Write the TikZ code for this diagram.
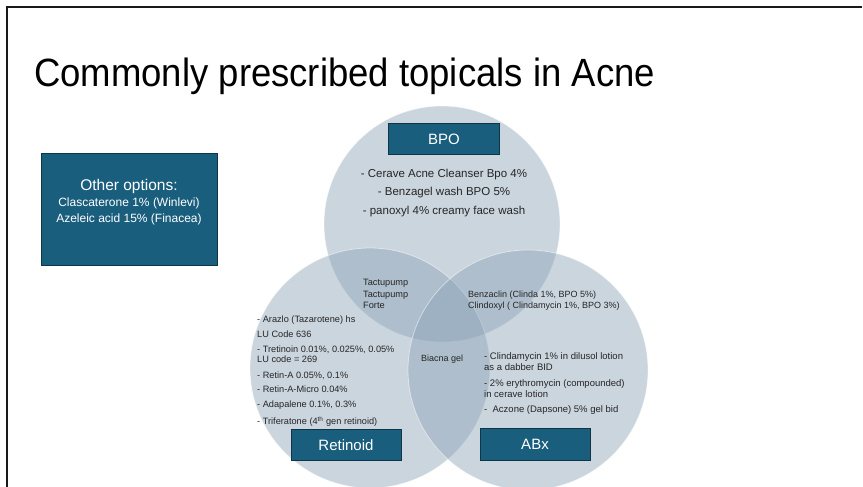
\documentclass[tikz,border=0pt]{standalone}
\usepackage{fontspec}
\setmainfont{Liberation Sans}
\definecolor{boxblue}{RGB}{26,94,126}
\definecolor{boxedge}{RGB}{16,52,72}
\definecolor{vennfill}{RGB}{140,163,184}
\definecolor{framecol}{RGB}{25,25,25}
\begin{document}
\begin{tikzpicture}[x=1pt,y=-1pt,
  labelbox/.style={draw=boxedge, line width=0.9pt, fill=boxblue, text=white,
    minimum width=110pt, minimum height=31pt, inner sep=0pt,
    font=\fontsize{15}{18}\selectfont},
  vennset/.style={circle, inner sep=0pt, fill=vennfill, fill opacity=0.45,
    draw=white, draw opacity=0.5, line width=0.8pt},
  smalltext/.style={inner sep=0pt, text=black!85, align=left}
]
\useasboundingbox (0,0) rectangle (863,487);
\fill[white] (0,0) rectangle (863,487);

% slide frame (left and top edges)
\draw[framecol, line width=2pt] (7,488) -- (7,7) -- (862,7);

% title
\node[anchor=base west, inner sep=0pt, font=\fontsize{36.5}{40}\selectfont] (title) at (34,87)
  {\scalebox{1}[1.08]{Commonly prescribed topicals in Acne}};

% side box
\node[draw=boxedge, line width=0.9pt, fill=boxblue,
  minimum width=176pt, minimum height=112pt, inner sep=0pt] (other) at (129,209) {};
\node[text=white, align=center, inner sep=0pt,
  font=\fontsize{12}{16.5}\selectfont] (othertext) at (129,202)
  {{\fontsize{15.5}{17}\selectfont Other options:}\\[-0.5pt]
   Clascaterone 1\% (Winlevi)\\
   Azeleic acid 15\% (Finacea)};

% the three sets
\node[vennset, minimum size=236pt] (bpo) at (442,224) {};
\node[vennset, minimum size=240pt] (ret) at (370,368) {};
\node[vennset, minimum size=240pt] (abx) at (528,370) {};

% set labels
\node[labelbox, minimum width=111pt] (bpolab) at (444,139) {BPO};
\node[labelbox] (retlab) at (346,445) {Retinoid};
\node[labelbox, minimum height=32pt] (abxlab) at (535,444) {ABx};

% BPO products
\node[smalltext, align=center, font=\fontsize{11.5}{18.5}\selectfont] (bpolist) at (444,193)
  {- Cerave Acne Cleanser Bpo 4\%\\
   - Benzagel wash BPO 5\%\\
   - panoxyl 4\% creamy face wash};

% retinoid products
\node[smalltext, anchor=north west, font=\fontsize{9.2}{10}\selectfont] (retlist) at (257,316)
  {- Arazlo (Tazarotene) hs\\[4.3pt]
   LU Code 636\\[5pt]
   - Tretinoin 0.01\%, 0.025\%, 0.05\%\\
   LU code = 269\\[6.5pt]
   - Retin-A 0.05\%, 0.1\%\\[4.3pt]
   - Retin-A-Micro 0.04\%\\[5pt]
   - Adapalene 0.1\%, 0.3\%\\[5.5pt]
   - Triferatone (4\textsuperscript{th} gen retinoid)};

% BPO + retinoid
\node[smalltext, anchor=north west, font=\fontsize{9.2}{11.5}\selectfont] (tactu) at (363,279)
  {Tactupump\\ Tactupump\\ Forte};

% BPO + ABx
\node[smalltext, anchor=north west, font=\fontsize{9}{11}\selectfont] (benz) at (468,291)
  {Benzaclin (Clinda 1\%, BPO 5\%)\\
   Clindoxyl ( Clindamycin 1\%, BPO 3\%)};

% all three
\node[smalltext, anchor=west, font=\fontsize{9}{11}\selectfont] (biacna) at (421,359)
  {Biacna gel};

% antibiotic products
\node[smalltext, anchor=north west, font=\fontsize{9.5}{11}\selectfont] (abxlist) at (484,352)
  {- Clindamycin 1\% in dilusol lotion\\
   as a dabber BID\\[5pt]
   - 2\% erythromycin (compounded)\\
   in cerave lotion\\[4.5pt]
   -\ \ Aczone (Dapsone) 5\% gel bid};
\end{tikzpicture}
\end{document}
